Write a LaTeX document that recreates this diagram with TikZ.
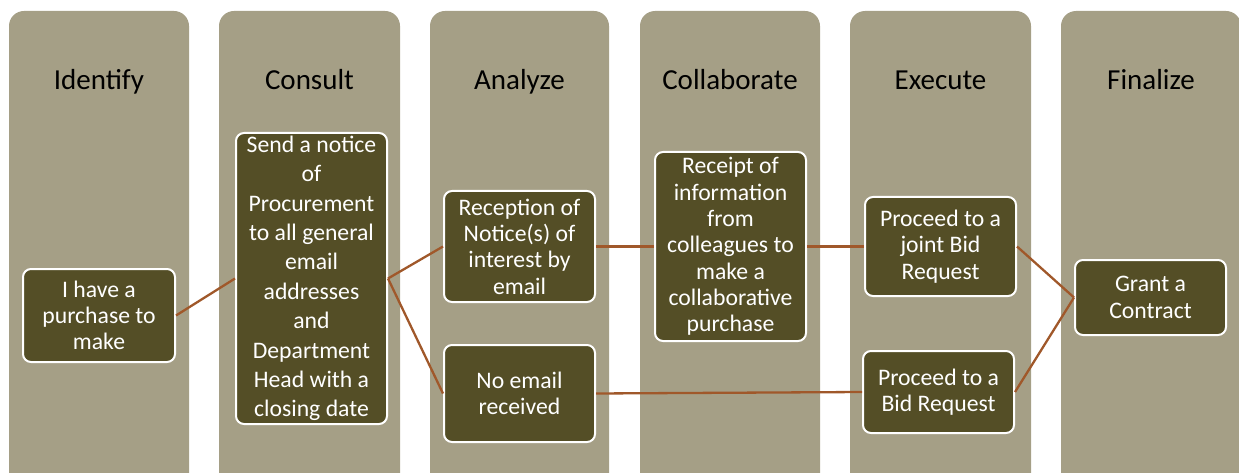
\documentclass[tikz,border=0pt]{standalone}
\usepackage{fontspec}
\setmainfont{Carlito}
\definecolor{colbg}{HTML}{A59F86}
\definecolor{boxbg}{HTML}{544E26}
\definecolor{conn}{HTML}{A0582A}
\begin{document}
\begin{tikzpicture}[x=1pt,y=-1pt,
  lane/.style={fill=colbg, rounded corners=15pt},
  head/.style={font=\fontsize{29}{35}\selectfont, text=black, inner sep=0pt, anchor=base},
  stepbox/.style={draw=white, line width=2pt, fill=boxbg, rounded corners=8pt, text=white, align=center, minimum width=151pt, inner sep=2pt, font=\fontsize{23.7}{26.3}\selectfont},
  link/.style={draw=conn, line width=2.3pt}]
\useasboundingbox (0,0) rectangle (1239,473);
\clip (0,0) rectangle (1239,473);
% lanes
\fill[lane] (9,11) rectangle (189,530);
\fill[lane] (219,11) rectangle (400,530);
\fill[lane] (430,11) rectangle (609,530);
\fill[lane] (640,11) rectangle (820,530);
\fill[lane] (850,11) rectangle (1031,530);
\fill[lane] (1061,11) rectangle (1241,530);
% headings
\node[head] (h1) at (99,90) {Identify};
\node[head] (h2) at (309.5,90) {Consult};
\node[head] (h3) at (519.5,90) {Analyze};
\node[head] (h4) at (730,90) {Collaborate};
\node[head] (h5) at (940.5,90) {Execute};
\node[head] (h6) at (1151,90) {Finalize};
% boxes
\node[stepbox, minimum width=152pt, minimum height=93pt] (a) at (99,315.5) {I have a\\purchase to\\make};
\node[stepbox, minimum height=291pt, font=\fontsize{23.7}{29.4}\selectfont, inner sep=0pt] (b) at (311.5,278.5) {Send a notice\\of\\Procurement\\to all general\\email\\addresses\\and\\Department\\Head with a\\closing date};
\node[stepbox, minimum height=111pt] (c) at (519.5,246.5) {Reception of\\Notice(s) of\\interest by\\email};
\node[stepbox, minimum height=97pt] (d) at (519.5,393.5) {No email\\received};
\node[stepbox, minimum height=189pt] (e) at (730.5,246.5) {Receipt of\\information\\from\\colleagues to\\make a\\collaborative\\purchase};
\node[stepbox, minimum height=99pt] (f) at (940.5,246.5) {Proceed to a\\joint Bid\\Request};
\node[stepbox, minimum height=82pt] (g) at (938.5,392) {Proceed to a\\Bid Request};
\node[stepbox, minimum height=75pt] (h) at (1150.5,297.5) {Grant a\\Contract};
% connectors
\draw[link] (a.east) -- (b.west);
\draw[link] (b.east) -- (c.west);
\draw[link] (b.east) -- (d.west);
\draw[link] (c.east) -- (e.west);
\draw[link] (d.east) -- (g.west);
\draw[link] (e.east) -- (f.west);
\draw[link] (f.east) -- (h.west);
\draw[link] (g.east) -- (h.west);
\end{tikzpicture}
\end{document}
